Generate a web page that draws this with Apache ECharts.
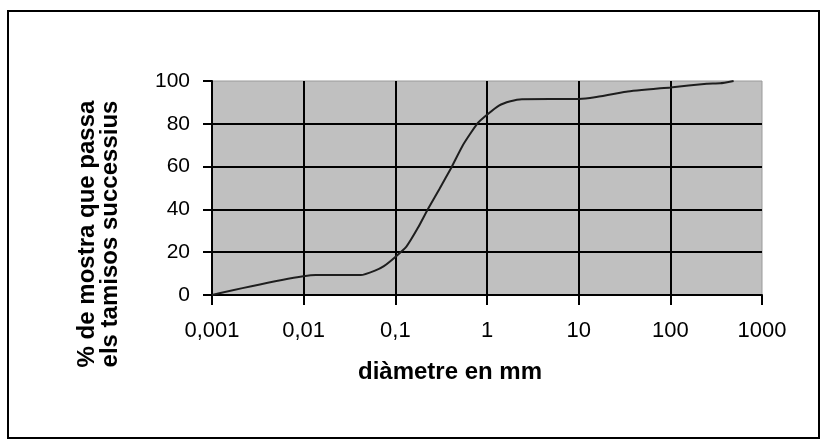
<!DOCTYPE html>
<html>
<head>
<meta charset="utf-8">
<script src="https://cdn.jsdelivr.net/npm/echarts@6/dist/echarts.min.js"></script>
<style>
html,body{margin:0;padding:0;background:#fff;}
#chart{width:826px;height:442px;}
</style>
</head>
<body>
<div id="chart"></div>
<script>
// diameter (mm) and % passing
var diameters = [0.001, 0.0135, 0.042, 0.06, 0.075, 0.1, 0.132, 0.177, 0.227, 0.305, 0.408, 0.547, 0.78, 1.0, 1.35, 1.8, 2.4, 10, 15, 33, 100, 250, 350, 490];
var passing   = [0,     9.3,    9.3,   11.4,  13.5,  17.8, 22.6, 31.5,  40.2,  49.8,  59.5,  70.1,  80,   84.2, 88.5, 90.5, 91.5, 91.6, 92.4, 95, 97, 98.7, 98.9, 100];
var xTickLabels = ['0,001', '0,01', '0,1', '1', '10', '100', '1000'];
var yTicks = [0, 20, 40, 60, 80, 100];
var xAxisName = 'diàmetre en mm';
var yAxisName = ['% de mostra que passa', 'els tamisos successius'];

var seriesData = diameters.map(function (d, i) { return [d, passing[i]]; });

var chart = echarts.init(document.getElementById('chart'));
var FONT = 'Liberation Sans, Arial, sans-serif';
chart.setOption({
  animation: false,
  backgroundColor: '#ffffff',
  grid: {
    left: 212, right: 64, top: 81, bottom: 147,
    show: true,
    backgroundColor: '#c0c0c0',
    borderColor: '#9a9a9a',
    borderWidth: 1
  },
  xAxis: {
    type: 'log',
    logBase: 10,
    min: 0.001,
    max: 1000,
    axisLine: { show: true, lineStyle: { color: '#000', width: 2 } },
    axisTick: { show: true, length: 10, lineStyle: { color: '#000', width: 2 } },
    axisLabel: {
      color: '#000', fontSize: 22, fontFamily: FONT, margin: 25,
      formatter: function (v) {
        var idx = Math.round(Math.log(v) / Math.LN10) + 3;
        return xTickLabels[idx] !== undefined ? xTickLabels[idx] : '';
      }
    },
    splitLine: { show: true, showMinLine: false, showMaxLine: false, lineStyle: { color: '#000', width: 2 } },
    minorTick: { show: false },
    minorSplitLine: { show: false }
  },
  yAxis: {
    type: 'value',
    min: yTicks[0],
    max: yTicks[yTicks.length - 1],
    interval: 20,
    axisLine: { show: true, lineStyle: { color: '#000', width: 2 } },
    axisTick: { show: true, length: 9, lineStyle: { color: '#000', width: 2 } },
    axisLabel: { color: '#000', fontSize: 21, fontFamily: FONT, margin: 22 },
    splitLine: { show: true, showMinLine: false, showMaxLine: false, lineStyle: { color: '#000', width: 2 } }
  },
  series: [{
    type: 'line',
    data: seriesData,
    showSymbol: false,
    symbol: 'none',
    smooth: 0.15,
    lineStyle: { color: '#1e1e1e', width: 2 },
    z: 5
  }],
  graphic: [
    {
      type: 'rect',
      shape: { x: 8, y: 11, width: 811, height: 427 },
      style: { fill: 'none', stroke: '#000', lineWidth: 2 },
      silent: true
    },
    {
      type: 'text',
      x: 99, y: 234,
      rotation: Math.PI / 2,
      style: {
        text: yAxisName.join('\n'),
        font: 'bold 24px ' + FONT,
        fill: '#000',
        align: 'center',
        verticalAlign: 'middle',
        lineHeight: 23
      }
    },
    {
      type: 'text',
      x: 450, y: 372,
      style: {
        text: xAxisName,
        font: 'bold 24px ' + FONT,
        fill: '#000',
        align: 'center',
        verticalAlign: 'middle'
      }
    }
  ]
});
</script>
</body>
</html>
